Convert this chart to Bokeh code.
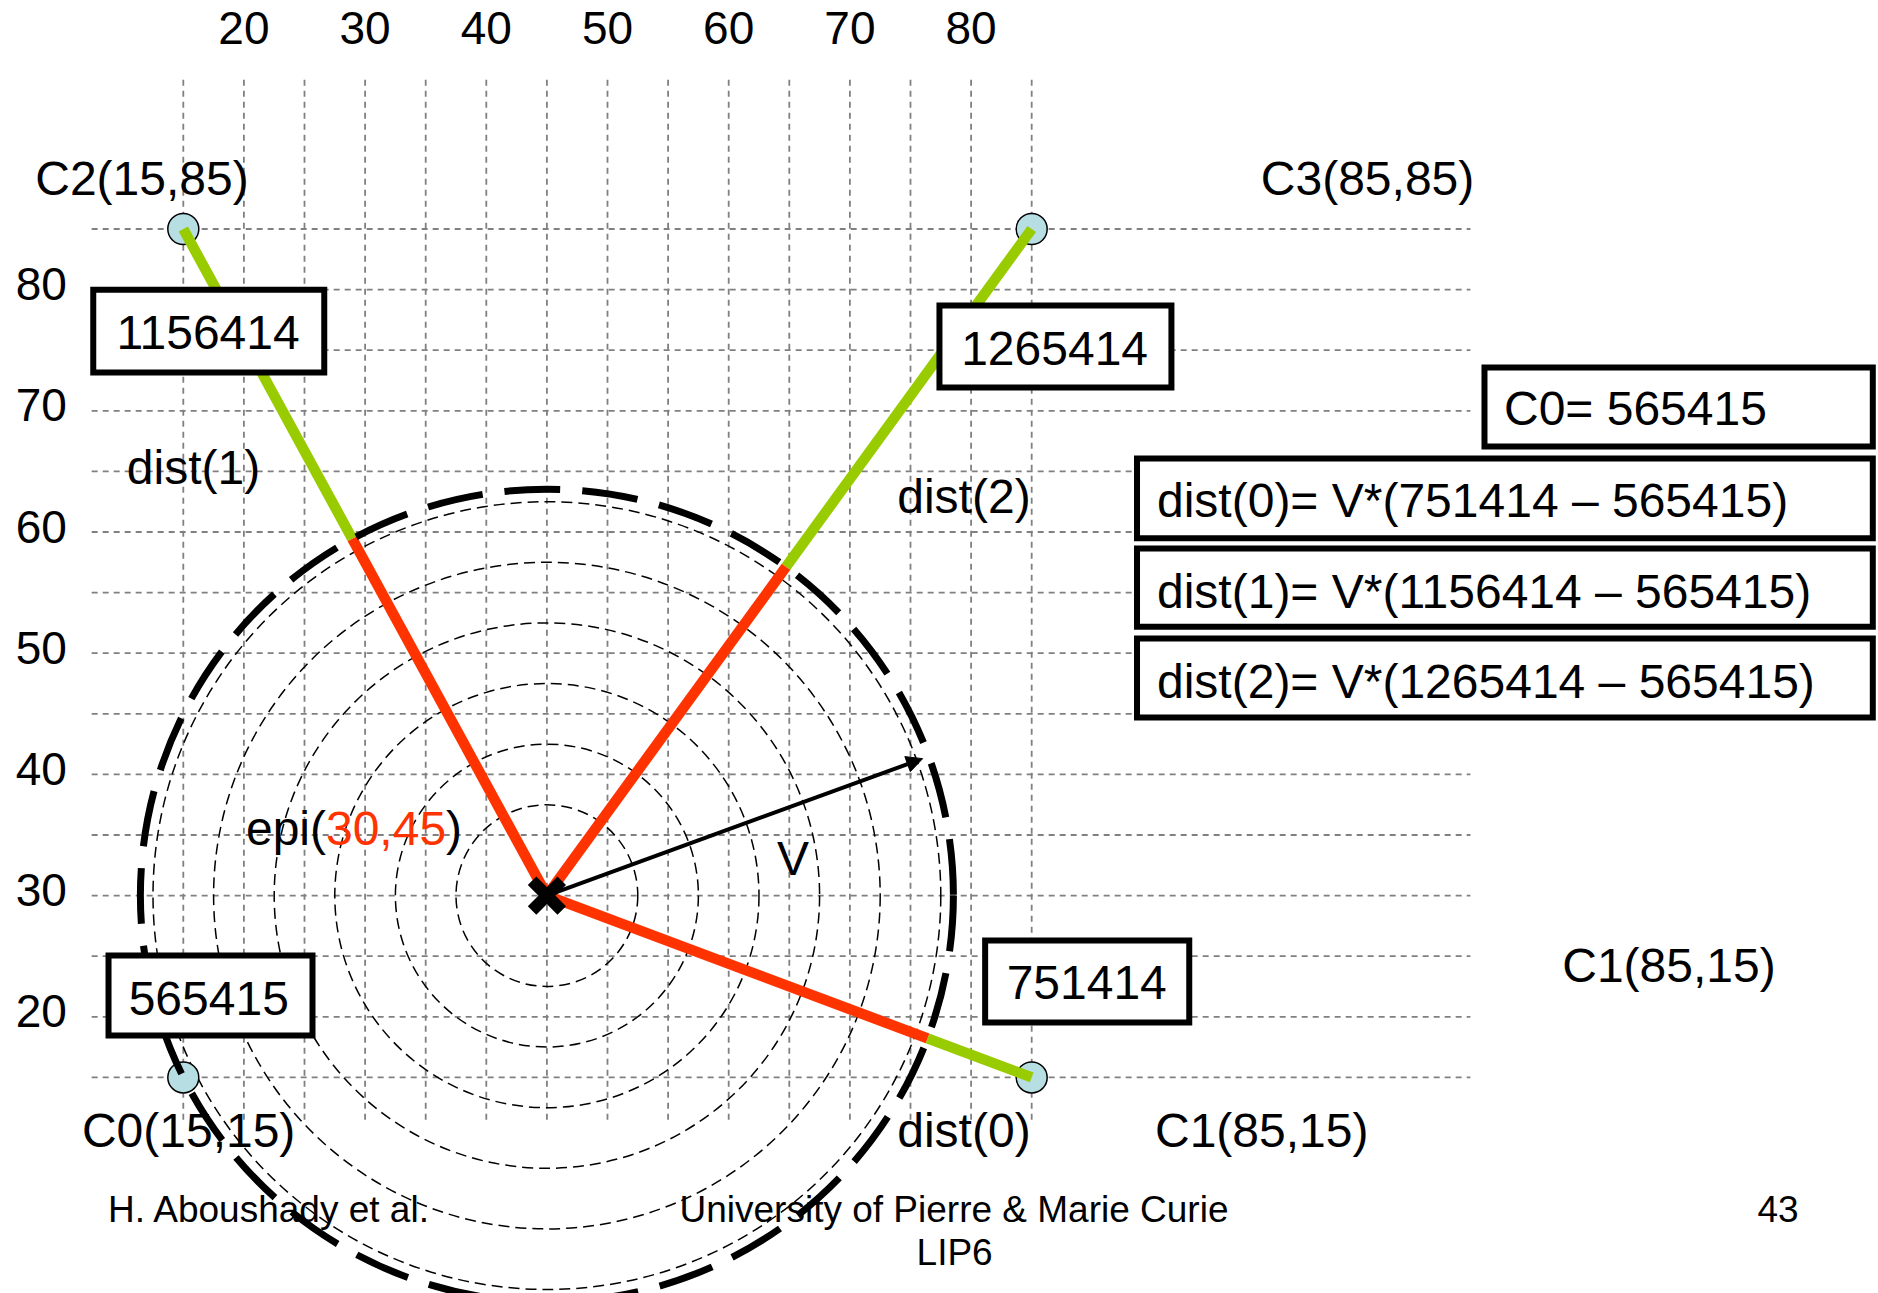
import math
from bokeh.plotting import figure
from bokeh.models import ColumnDataSource, Arrow, NormalHead, Range1d
from bokeh.core.properties import value
from bokeh.embed import file_html
from bokeh.resources import INLINE

FONT = "Liberation Sans"
RED = "#FF3300"
GREEN = "#99CC00"

# ---------------- data ----------------
station_names = ["C0", "C1", "C2", "C3"]
station_x = [15, 85, 15, 85]
station_y = [15, 15, 85, 85]
arrival_times = [565415, 751414, 1156414, 1265414]
epi_x = 45
epi_y = 30
grid_x = [15, 20, 25, 30, 35, 40, 45, 50, 55, 60, 65, 70, 75, 80, 85]
grid_y = [15, 20, 25, 30, 35, 40, 45, 50, 55, 60, 65, 70, 75, 80, 85]
top_ticks = [20, 30, 40, 50, 60, 70, 80]
left_ticks = [80, 70, 60, 50, 40, 30, 20]
ring_radii = [7.5, 12.5, 17.5, 22.5, 27.5, 32.5]
v_tip_x = 76.0
v_tip_y = 41.3

# ---------------- figure ----------------
p = figure(width=1878, height=1293, output_backend="svg", toolbar_location=None,
           x_range=Range1d(-0.083, 154.87), y_range=Range1d(-2.83, 103.853),
           min_border=0, x_axis_location=None, y_axis_location=None,
           background_fill_color="white", border_fill_color="white")
p.outline_line_color = None
p.grid.visible = False

# grid
p.segment(x0=grid_x, y0=[11.5] * len(grid_x), x1=grid_x, y1=[97.5] * len(grid_x),
          line_color="#808080", line_width=1.8, line_dash="6 5")
p.segment(x0=[7.44] * len(grid_y), y0=grid_y, x1=[121.2] * len(grid_y), y1=grid_y,
          line_color="#808080", line_width=1.8, line_dash="6 5")

# thin rings
p.circle(x=[epi_x] * len(ring_radii), y=[epi_y] * len(ring_radii), radius=ring_radii,
         fill_color=None, line_color="black", line_width=1.5, line_dash="11 6")

# thick ring through the first station (C0)
R = math.hypot(station_x[0] - epi_x, station_y[0] - epi_y)

# station markers
p.scatter(x=station_x, y=station_y, size=31, marker="circle",
          fill_color="#B7DEE3", line_color="black", line_width=1.5)

# red / green paths from epicentre to stations C1..C3
rx0, ry0, rx1, ry1 = [], [], [], []
gx0, gy0, gx1, gy1 = [], [], [], []
for sx, sy in zip(station_x[1:], station_y[1:]):
    dx, dy = sx - epi_x, sy - epi_y
    L = math.hypot(dx, dy)
    bx, by = epi_x + dx * R / L, epi_y + dy * R / L
    rx0.append(epi_x); ry0.append(epi_y); rx1.append(bx); ry1.append(by)
    gx0.append(bx); gy0.append(by); gx1.append(sx); gy1.append(sy)
p.segment(x0=gx0, y0=gy0, x1=gx1, y1=gy1, line_color=GREEN, line_width=10.5)
p.segment(x0=rx0, y0=ry0, x1=rx1, y1=ry1, line_color=RED, line_width=10.5)

p.circle(x=[epi_x], y=[epi_y], radius=[R], fill_color=None, line_color="black",
         line_width=7, line_dash="56 22")

# epicentre X
p.scatter(x=[epi_x], y=[epi_y], marker="x", size=42, line_color="black", line_width=12)

# velocity arrow
p.add_layout(Arrow(end=NormalHead(size=16, fill_color="black", line_color="black", line_width=1),
                   x_start=epi_x, y_start=epi_y, x_end=v_tip_x, y_end=v_tip_y,
                   line_color="black", line_width=4))

# ---------------- boxes ----------------
box_texts = ["1156414", "1265414", "565415", "751414",
             "C0= 565415",
             "dist(0)= V*(751414 \u2013 565415)",
             "dist(1)= V*(1156414 \u2013 565415)",
             "dist(2)= V*(1265414 \u2013 565415)"]
box_left = [7.57, 77.39, 8.83, 81.16, 122.36, 93.69, 93.69, 93.69]
box_right = [26.63, 96.53, 25.66, 98.0, 154.4, 154.4, 154.4, 154.4]
box_top = [79.98, 78.69, 25.06, 26.3, 73.57, 66.06, 58.64, 51.21]
box_bottom = [73.16, 71.92, 18.46, 19.53, 67.05, 59.49, 52.18, 44.69]
box_tx = [17.04, 86.89, 17.1, 89.54, 123.97, 95.34, 95.34, 95.34]
box_ty = [76.46, 75.1, 21.55, 22.79, 70.17, 62.64, 55.07, 47.65]
box_align = ["center", "center", "center", "center", "left", "left", "left", "left"]

p.quad(left=box_left, right=box_right, top=box_top, bottom=box_bottom,
       fill_color="white", line_color="black", line_width=6, line_join="miter")

src_box = ColumnDataSource(dict(x=box_tx, y=box_ty, text=box_texts, align=box_align))
p.text(x="x", y="y", text="text", source=src_box, text_align="align", text_baseline="alphabetic",
       text_font=value(FONT), text_font_size=value("48px"), text_color="black")

# ---------------- labels ----------------
label_text = ["C2(15,85)", "C3(85,85)", "dist(1)", "dist(2)", "V", "C1(85,15)",
              "C0(15,15)", "dist(0)", "C1(85,15)"]
label_x = [11.59, 112.71, 15.84, 79.41, 65.3, 137.58, 15.44, 79.41, 103.98]
label_y = [89.13, 89.13, 65.36, 62.89, 33.04, 24.27, 10.58, 10.58, 10.58]
src_lab = ColumnDataSource(dict(x=label_x, y=label_y, text=label_text))
p.text(x="x", y="y", text="text", source=src_lab, text_align="center", text_baseline="alphabetic",
       text_font=value(FONT), text_font_size=value("48px"), text_color="black")

# epi(30,45) with red coordinates
epi_parts = ["epi(", "30,45", ")"]
epi_colors = ["black", RED, "black"]
epi_start = 20.17
em = 48 / 12.12
epi_widths = [1.667 * em, 2.502 * em, 0.333 * em]
epi_px = [epi_start, epi_start + epi_widths[0], epi_start + epi_widths[0] + epi_widths[1]]
src_epi = ColumnDataSource(dict(x=epi_px, y=[35.5] * 3, text=epi_parts, color=epi_colors))
p.text(x="x", y="y", text="text", source=src_epi, text_align="left", text_baseline="alphabetic",
       text_font=value(FONT), text_font_size=value("48px"), text_color="color")

# tick labels
src_top = ColumnDataSource(dict(x=top_ticks, y=[101.6] * len(top_ticks),
                                text=[str(t) for t in top_ticks]))
p.text(x="x", y="y", text="text", source=src_top, text_align="center", text_baseline="alphabetic",
       text_font=value(FONT), text_font_size=value("46px"), text_color="black")
src_left = ColumnDataSource(dict(x=[5.4] * len(left_ticks), y=[t + 0.45 for t in left_ticks],
                                 text=[str(t) for t in left_ticks]))
p.text(x="x", y="y", text="text", source=src_left, text_align="right", text_baseline="alphabetic",
       text_font=value(FONT), text_font_size=value("46px"), text_color="black")

# footer
foot_text = ["H. Aboushady et al.", "University of Pierre & Marie Curie", "LIP6", "43"]
foot_x = [8.79, 78.59, 78.64, 146.58]
foot_y = [4.14, 4.14, 0.53, 4.14]
foot_align = ["left", "center", "center", "center"]
src_foot = ColumnDataSource(dict(x=foot_x, y=foot_y, text=foot_text, align=foot_align))
p.text(x="x", y="y", text="text", source=src_foot, text_align="align", text_baseline="alphabetic",
       text_font=value(FONT), text_font_size=value("37px"), text_color="black")

open("out.html", "w").write(file_html(p, INLINE))
